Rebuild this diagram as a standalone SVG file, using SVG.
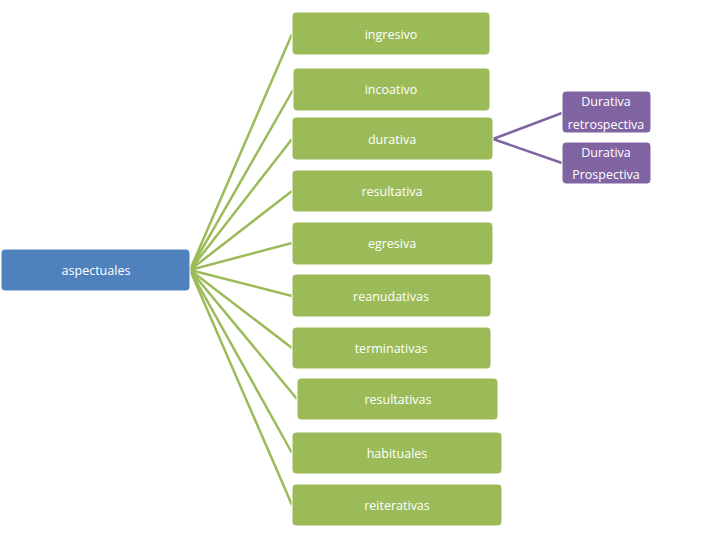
<svg xmlns="http://www.w3.org/2000/svg" width="720" height="540" viewBox="0 0 720 540">
<style>
.g{fill:#9BBB59;stroke:#ffffff;stroke-width:1}
.b{fill:#4F81BD;stroke:#ffffff;stroke-width:1}
.p{fill:#8064A2;stroke:#ffffff;stroke-width:1}
text{font-family:"Open Sans","Liberation Sans",sans-serif;font-size:12.5px;fill:#ffffff;text-anchor:middle;dominant-baseline:central}
.gl{stroke:#9BBB59;stroke-width:2.5;fill:none}
.pl{stroke:#8064A2;stroke-width:2.5;fill:none}
</style>
<rect width="720" height="540" fill="#ffffff"/>
<g id="connectors">
<line class="gl" x1="190" y1="270" x2="292" y2="34"/>
<line class="gl" x1="190" y1="270" x2="293" y2="90"/>
<line class="gl" x1="190" y1="270" x2="292" y2="139"/>
<line class="gl" x1="190" y1="270" x2="292" y2="191"/>
<line class="gl" x1="190" y1="270" x2="292" y2="243"/>
<line class="gl" x1="190" y1="270" x2="292" y2="296"/>
<line class="gl" x1="190" y1="270" x2="292" y2="348"/>
<line class="gl" x1="190" y1="270" x2="297" y2="399"/>
<line class="gl" x1="190" y1="270" x2="292" y2="453"/>
<line class="gl" x1="190" y1="270" x2="292" y2="505"/>
<line class="pl" x1="493" y1="139" x2="562" y2="113"/>
<line class="pl" x1="493" y1="139" x2="562" y2="163"/>
</g>
<g id="aspectuales"><rect class="b" x="1" y="249" width="189" height="42" rx="4"/><text x="96" y="270">aspectuales</text></g>
<g id="ingresivo"><rect class="g" x="292" y="12" width="198" height="43" rx="4"/><text x="391" y="34">ingresivo</text></g>
<g id="incoativo"><rect class="g" x="293" y="68" width="197" height="43" rx="4"/><text x="391" y="89">incoativo</text></g>
<g id="durativa"><rect class="g" x="292" y="117" width="201" height="43" rx="4"/><text x="392" y="139">durativa</text></g>
<g id="resultativa"><rect class="g" x="292" y="170" width="201" height="42" rx="4"/><text x="392" y="191">resultativa</text></g>
<g id="egresiva"><rect class="g" x="292" y="222" width="201" height="43" rx="4"/><text x="392" y="243">egresiva</text></g>
<g id="reanudativas"><rect class="g" x="292" y="274" width="199" height="43" rx="4"/><text x="391" y="296">reanudativas</text></g>
<g id="terminativas"><rect class="g" x="292" y="327" width="199" height="42" rx="4"/><text x="391" y="348">terminativas</text></g>
<g id="resultativas"><rect class="g" x="297" y="378" width="201" height="42" rx="4"/><text x="398" y="399">resultativas</text></g>
<g id="habituales"><rect class="g" x="292" y="432" width="210" height="42" rx="4"/><text x="397" y="453">habituales</text></g>
<g id="reiterativas"><rect class="g" x="292" y="484" width="210" height="42" rx="4"/><text x="397" y="505">reiterativas</text></g>
<g id="durativa-retrospectiva"><rect class="p" x="562" y="91" width="89" height="42" rx="4"/><text x="606" y="101">Durativa</text><text x="606" y="124">retrospectiva</text></g>
<g id="durativa-prospectiva"><rect class="p" x="562" y="142" width="89" height="42" rx="4"/><text x="606" y="152">Durativa</text><text x="606" y="174">Prospectiva</text></g>
</svg>
